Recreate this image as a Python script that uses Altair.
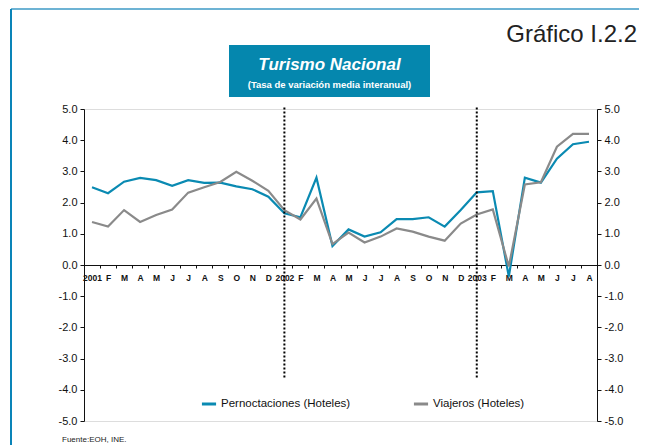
import altair as alt
import pandas as pd

month_labels = ["2001", "F", "M", "A", "M", "J", "J", "A", "S", "O", "N", "D",
                "2002", "F", "M", "A", "M", "J", "J", "A", "S", "O", "N", "D",
                "2003", "F", "M", "A", "M", "J", "J", "A"]
pernoctaciones = [2.49, 2.30, 2.67, 2.79, 2.72, 2.54, 2.72, 2.63, 2.64, 2.52, 2.43, 2.19,
                  1.66, 1.53, 2.80, 0.61, 1.14, 0.91, 1.05, 1.47, 1.47, 1.53, 1.23, 1.76,
                  2.33, 2.37, -0.37, 2.80, 2.64, 3.41, 3.87, 3.95]
viajeros = [1.38, 1.23, 1.76, 1.38, 1.60, 1.78, 2.32, 2.49, 2.66, 2.99, 2.70, 2.38,
            1.76, 1.46, 2.13, 0.67, 1.04, 0.72, 0.91, 1.17, 1.07, 0.91, 0.78, 1.33,
            1.62, 1.78, -0.05, 2.58, 2.65, 3.79, 4.20, 4.20]
series_names = ["Pernoctaciones (Hoteles)", "Viajeros (Hoteles)"]
series_colors = ["#0a8ab2", "#8a8a8a"]
year_breaks = [12, 24]

FONT = "Liberation Sans"
W, H = 513, 312

rows = []
for i, lab in enumerate(month_labels):
    rows.append({"i": i, "serie": series_names[0], "v": pernoctaciones[i]})
    rows.append({"i": i, "serie": series_names[1], "v": viajeros[i]})
df = pd.DataFrame(rows)

label_js = "[" + ",".join("'%s'" % s for s in month_labels) + "][datum.value]"
ylab_js = "datum.value < 0 ? '-' + format(-datum.value, '.1f') : format(datum.value, '.1f')"

xscale = alt.Scale(type="band", paddingInner=0, paddingOuter=0,
                   domain=list(range(len(month_labels))))
yscale = alt.Scale(domain=[-5, 5], nice=False, zero=False)

x_axis = alt.Axis(title=None, orient="bottom", offset=-H / 2, labelExpr=label_js,
                  labelAngle=0, labelFont=FONT, labelFontWeight="bold",
                  labelFontSize=8.5, labelColor="#111", labelPadding=5,
                  tickBand="extent", tickSize=3, tickColor="#111",
                  domainColor="#111", grid=False)
x_enc = alt.X("i:O", scale=xscale, bandPosition=0.5, axis=x_axis)

left_axis = alt.Axis(title=None, orient="left", values=list(range(-5, 6)), labelExpr=ylab_js,
                     labelFont=FONT, labelFontSize=11, labelColor="#111", tickSize=4,
                     tickColor="#111", domainColor="#111", grid=False, labelPadding=3)
right_axis = alt.Axis(title=None, orient="right", values=list(range(-5, 6)), labelExpr=ylab_js,
                      labelFont=FONT, labelFontSize=11, labelColor="#111", tickSize=4,
                      tickColor="#111", domainColor="#111", grid=False, labelPadding=3)

lines = alt.Chart(df).mark_line(strokeWidth=2.2).encode(
    x=x_enc,
    y=alt.Y("v:Q", scale=yscale, axis=left_axis),
    color=alt.Color("serie:N",
                    scale=alt.Scale(domain=series_names, range=series_colors),
                    sort=series_names,
                    legend=alt.Legend(title=None, orient="none", legendX=116, legendY=286,
                                      direction="horizontal", symbolType="stroke",
                                      symbolStrokeWidth=3, symbolSize=200,
                                      labelFont=FONT, labelFontSize=11.5, labelColor="#111",
                                      columnPadding=56, labelOffset=3)),
)

right = alt.Chart(df).mark_line(opacity=0).encode(
    x=x_enc,
    y=alt.Y("v:Q", scale=yscale, axis=right_axis),
    detail="serie:N",
)

brk = pd.DataFrame({"i": year_breaks, "top": [5.05, 5.05], "bot": [-3.65, -3.65]})
rules = alt.Chart(brk).mark_rule(color="#000", strokeWidth=2, strokeDash=[2, 2]).encode(
    x=x_enc,
    y=alt.Y("top:Q", scale=yscale, axis=None),
    y2="bot:Q",
)

deco = pd.DataFrame({"k": [0]})
frame_top = alt.Chart(deco).mark_rule(color="#6db3d4", strokeWidth=2).encode(
    x=alt.value(-73), x2=alt.value(570), y=alt.value(-100))
frame_left = alt.Chart(deco).mark_rule(color="#0a84b8", strokeWidth=2).encode(
    x=alt.value(-73), y=alt.value(-100), y2=alt.value(345))
box = alt.Chart(deco).mark_rect(color="#0587ae").encode(
    x=alt.value(145), x2=alt.value(346), y=alt.value(-64), y2=alt.value(-12))
t1 = alt.Chart(deco).mark_text(text="Turismo Nacional", font=FONT, fontSize=17,
                               fontWeight="bold", fontStyle="italic", color="white",
                               align="center", baseline="middle").encode(
    x=alt.value(245.5), y=alt.value(-44))
t2 = alt.Chart(deco).mark_text(text="(Tasa de variación media interanual)", font=FONT,
                               fontSize=9.5, fontWeight="bold", color="white",
                               align="center", baseline="middle").encode(
    x=alt.value(245.5), y=alt.value(-24))
t3 = alt.Chart(deco).mark_text(text="Gráfico I.2.2", font=FONT, fontSize=24,
                               color="#222", align="right", baseline="middle").encode(
    x=alt.value(553), y=alt.value(-74))
t4 = alt.Chart(deco).mark_text(text="Fuente:EOH, INE.", font=FONT, fontSize=8,
                               color="#222", align="left", baseline="middle").encode(
    x=alt.value(-22), y=alt.value(331))

chart = alt.layer(lines, right, rules, frame_top, frame_left, box, t1, t2, t3, t4).resolve_scale(
    y="independent"
).properties(
    width=W, height=H,
    autosize=alt.AutoSizeParams(type="none"),
    padding={"left": 76, "top": 101, "right": 42, "bottom": 24},
).configure_view(stroke=None).configure(background="white")

chart.save("out.html", embed_options={"renderer": "svg", "actions": False})
